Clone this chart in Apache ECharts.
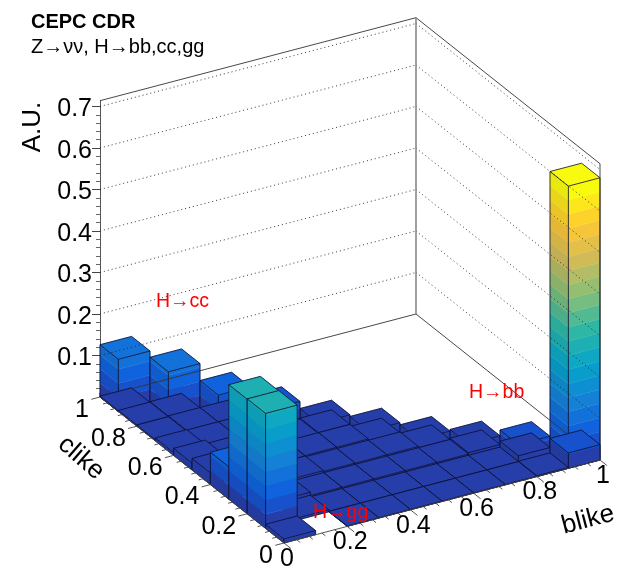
<!DOCTYPE html>
<html><head><meta charset="utf-8">
<style>html,body{margin:0;padding:0;background:#fff}#c{width:622px;height:571px}</style>
<script src="https://cdn.jsdelivr.net/npm/echarts@6/dist/echarts.min.js"></script>
</head><body><div id="c"></div>
<script>
// Bin values: rows are clike bins 0..9, columns are blike bins 0..9 (only blike+clike<=1 is filled)
const hbb = [
 [0,0,0,0,0,0,0,0,0.003,0.68],
 [0,0,0,0,0,0,0,0,0.042],
 [0,0,0,0,0,0,0,0.028],
 [0,0,0,0,0,0,0.024],
 [0,0,0,0,0,0.029],
 [0,0,0,0,0.033],
 [0,0,0,0.02],
 [0,0,0.02],
 [0,0.02],
 [0.01]
];
const hcc = [
 [0,0,0,0,0,0,0,0,0,0],
 [0,0,0,0,0,0,0,0,0],
 [0,0,0,0,0,0,0,0],
 [0,0,0,0,0,0,0],
 [0,0,0,0,0,0],
 [0,0,0,0,0],
 [0,0,0,0.05],
 [0,0,0.07],
 [0,0.111],
 [0.126]
];
const hgg = [
 [0.01,0,0.001,0.001,0.001,0.001,0.001,0.001,0.002,0.037],
 [0.277,0.005,0.001,0.001,0.001,0.001,0.001,0.001,0.015],
 [0.276,0.012,0.004,0.004,0.004,0.004,0.004,0.007],
 [0.078,0.012,0.009,0.007,0.007,0.007,0.004],
 [0.028,0.011,0.009,0.01,0.01,0.005],
 [0.017,0.008,0.008,0.008,0.01],
 [0.007,0.006,0.006,0.006],
 [0.003,0.005,0.005],
 [0.003,0.004],
 [0.002]
];
const binWidth = 0.1;
const zTicks = [0.1,0.2,0.3,0.4,0.5,0.6,0.7];
const axisTicks = [0,0.2,0.4,0.6,0.8,1];
const axisTickLabels = ['0','0.2','0.4','0.6','0.8','1'];
const zMax = 0.714;
const levelStep = 0.034;
const noteLabels = ['H\u2192cc','H\u2192bb','H\u2192gg'];

const FONT = '"Liberation Sans", Arial, sans-serif';
// oblique projection of (blike, clike, height) onto the flat plot plane
const KU = 184/316, KV1 = 83/415, KV2 = 146/415;
const pu = (b,c)=> b - KU*c;
const pv = (b,c,z)=> z + KV1*b + KV2*(c-1);

const bird = [[.2082,.1664,.5293],[.0592,.3599,.8684],[.0780,.5041,.8385],[.0232,.6419,.7914],[.1802,.7178,.6425],[.5301,.7492,.4662],[.8186,.7328,.3498],[.9956,.7862,.1968],[.9764,.9832,.0539]];
function color(t,shade){
  t=Math.min(1,Math.max(0,t))*8; const k=Math.min(7,Math.floor(t)), f=t-k;
  const m=bird[k].map((a,n)=>(a+(bird[k+1][n]-a)*f)*shade*255);
  return 'rgb('+m.map(Math.round).join(',')+')';
}
function flat(h){const o=[];h.forEach((r,j)=>r.forEach((v,i)=>{if(v>0)o.push([i,j,v]);}));
  return o.sort((a,b)=>(b[0]+b[1])-(a[0]+a[1])||a[0]-b[0]);}

function renderBar(p,api){
  const i=api.value(0),j=api.value(1),z=api.value(2);
  const b0=i*binWidth,b1=b0+binWidth,c0=j*binWidth,c1=c0+binWidth;
  const P=(b,c,h)=>api.coord([pu(b,c),pv(b,c,h)]);
  const kids=[];
  const poly=(pts,fill)=>kids.push({type:'polygon',shape:{points:pts},style:{fill,stroke:fill,lineWidth:0.4}});
  const n=Math.floor(z/levelStep-1e-9);
  for(let k=0;k<=n;k++){
    const lo=k*levelStep,hi=Math.min(z,(k+1)*levelStep),t=(k+1)/20;
    poly([P(b0,c1,lo),P(b0,c0,lo),P(b0,c0,hi),P(b0,c1,hi)],color(t,0.93));
    poly([P(b0,c0,lo),P(b1,c0,lo),P(b1,c0,hi),P(b0,c0,hi)],color(t,1));
  }
  poly([P(b0,c0,z),P(b1,c0,z),P(b1,c1,z),P(b0,c1,z)],color((n+1)/20,1));
  const ls={stroke:'#0a0d2c',lineWidth:0.8,fill:null};
  kids.push({type:'polyline',shape:{points:[P(b0,c1,0),P(b0,c1,z),P(b1,c1,z),P(b1,c0,z),P(b1,c0,0),P(b0,c0,0),P(b0,c1,0)]},style:ls});
  kids.push({type:'polyline',shape:{points:[P(b0,c1,z),P(b0,c0,z),P(b1,c0,z)]},style:ls});
  kids.push({type:'line',shape:{x1:P(b0,c0,0)[0],y1:P(b0,c0,0)[1],x2:P(b0,c0,z)[0],y2:P(b0,c0,z)[1]},style:ls});
  return {type:'group',children:kids};
}
function line(api,a,b,style){const p=api.coord([pu(a[0],a[1]),pv(a[0],a[1],a[2])]),q=api.coord([pu(b[0],b[1]),pv(b[0],b[1],b[2])]);
  return {type:'line',shape:{x1:p[0],y1:p[1],x2:q[0],y2:q[1]},style};}
function renderBox(p,api){
  const solid={stroke:'#333',lineWidth:0.9,fill:null},dot={stroke:'#222',lineWidth:0.9,lineDash:[1,3],fill:null};
  const k=[];
  zTicks.forEach(z=>{k.push(line(api,[0,1,z],[1,1,z],dot));k.push(line(api,[1,1,z],[1,0,z],dot));});
  k.push(line(api,[0,1,0],[1,1,0],solid));k.push(line(api,[1,1,0],[1,0,0],solid));
  k.push(line(api,[0,1,zMax],[1,1,zMax],solid));k.push(line(api,[1,1,zMax],[1,0,zMax],solid));
  k.push(line(api,[1,1,0],[1,1,zMax],{stroke:'#888',lineWidth:1.6}));
  k.push(line(api,[1,0,0],[1,0,zMax],solid));
  return {type:'group',children:k};
}
function renderAxes(p,api){
  const k=[],st={stroke:'#444',lineWidth:0.9};
  const tick=(a,d,len)=>{const o=api.coord([pu(a[0],a[1]),pv(a[0],a[1],0)]);return {type:'line',shape:{x1:o[0],y1:o[1],x2:o[0]+d[0]*len,y2:o[1]+d[1]*len},style:st};};
  k.push(line(api,[0,0,0],[1,0,0],st));k.push(line(api,[0,0,0],[0,1,0],st));
  const dB=[0.783,0.622],dC=[-0.967,0.254];
  for(let n=0;n<=25;n++){const v=n*0.04,maj=n%5===0;
    k.push(tick([v,0],dB,maj?9:4.5));k.push(tick([0,v],dC,maj?9:4.5));}
  axisTicks.forEach((v,n)=>{
    const a=api.coord([pu(v,0),pv(v,0,0)]);
    k.push({type:'text',style:{x:a[0]+3,y:a[1]+16,text:axisTickLabels[n],font:'25px '+FONT,fill:'#000',align:'center',verticalAlign:'middle'}});
    const q=api.coord([pu(0,v),pv(0,v,0)]);
    k.push({type:'text',style:{x:q[0]-11,y:q[1]+13,text:axisTickLabels[n],font:'25px '+FONT,fill:'#000',align:'right',verticalAlign:'middle'}});
  });
  return {type:'group',children:k};
}
const layer=(name,h,z)=>({name,type:'custom',coordinateSystem:'cartesian2d',clip:false,silent:true,z,renderItem:renderBar,data:flat(h),encode:{x:0,y:2}});
const once=(name,fn,z)=>({name,type:'custom',coordinateSystem:'cartesian2d',clip:false,silent:true,z,renderItem:fn,data:[[0]],encode:{x:-1,y:-1}});

const chart=echarts.init(document.getElementById('c'),null,{renderer:'canvas'});
const note=(i,x,y)=>({type:'text',x,y,z:60,style:{text:noteLabels[i],font:'19.5px '+FONT,fill:'#ff0000',align:'left',verticalAlign:'middle'}});
chart.setOption({
  animation:false,backgroundColor:'#fff',
  textStyle:{fontFamily:FONT},
  grid:{left:100,top:397-zMax*415,width:500,height:zMax*415,containLabel:false},
  xAxis:{type:'value',min:-KU,max:1,show:false},
  yAxis:{type:'value',min:0,max:zMax,interval:0.1,position:'left',
    axisLine:{show:true,onZero:false,lineStyle:{color:'#555',width:1}},
    axisTick:{show:true,length:8,inside:false,lineStyle:{color:'#444',width:1},customValues:zTicks},
    minorTick:{show:true,splitNumber:5,length:4,lineStyle:{color:'#666',width:1}},
    axisLabel:{show:true,margin:8,fontSize:25,color:'#000',fontFamily:FONT,verticalAlign:'top',lineHeight:6,customValues:zTicks,formatter:v=>v.toFixed(1)},
    splitLine:{show:false},minorSplitLine:{show:false}},
  title:[
    {text:'CEPC CDR',left:31,top:12,padding:0,textStyle:{fontSize:20,fontWeight:'bold',color:'#000',fontFamily:FONT}},
    {text:'Z\u2192\u03bd\u03bd, H\u2192bb,cc,gg',left:31,top:37,padding:0,textStyle:{fontSize:20,fontWeight:'normal',color:'#000',fontFamily:FONT}}
  ],
  graphic:[
    {type:'text',x:33,y:127,rotation:Math.PI/2,z:50,style:{text:'A.U.',font:'26px '+FONT,fill:'#000',align:'center',verticalAlign:'middle'}},
    {type:'text',x:81,y:458,rotation:-0.72,z:50,style:{text:'clike',font:'26px '+FONT,fill:'#000',align:'center',verticalAlign:'middle'}},
    {type:'text',x:588,y:520,rotation:0.257,z:50,style:{text:'blike',font:'26px '+FONT,fill:'#000',align:'center',verticalAlign:'middle'}},
    note(0,156,302),note(1,469,393),note(2,313,513)
  ],
  series:[
    layer('H\u2192bb',hbb,3),
    layer('H\u2192cc',hcc,4),
    once('box',renderBox,5),
    layer('H\u2192gg',hgg,6),
    once('axes',renderAxes,7)
  ]
});
</script></body></html>
